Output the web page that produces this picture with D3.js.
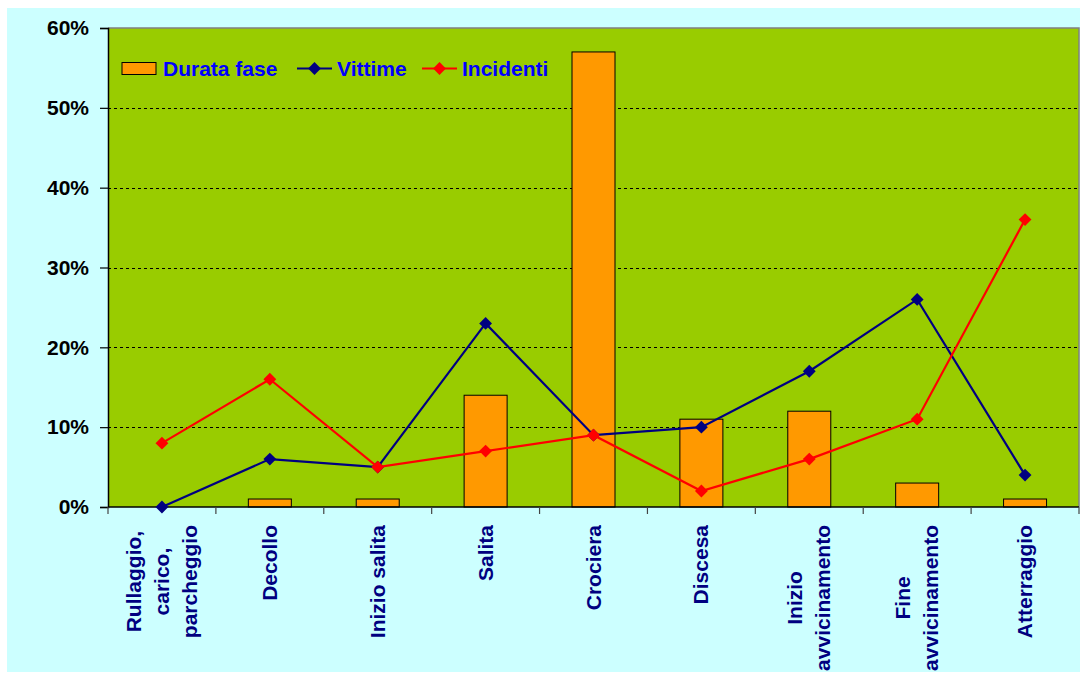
<!DOCTYPE html>
<html><head><meta charset="utf-8">
<script src="https://cdn.jsdelivr.net/npm/d3@7/dist/d3.min.js"></script>
<style>body{margin:0;background:#fff;}svg{display:block;font-family:"Liberation Sans",Arial,sans-serif;}</style>
</head><body>
<svg id="c" width="1080" height="675"></svg>
<script>
const categories = [["Rullaggio,","carico,","parcheggio"],["Decollo"],["Inizio salita"],["Salita"],["Crociera"],["Discesa"],["Inizio","avvicinamento"],["Fine","avvicinamento"],["Atterraggio"]];
const durata = [0, 1, 1, 14, 57, 11, 12, 3, 1];
const vittime = [0, 6, 5, 23, 9, 10, 17, 26, 4];
const incidenti = [8, 16, 5, 7, 9, 2, 6, 11, 36];
const yTicks = [0, 10, 20, 30, 40, 50, 60];
const seriesNames = ["Durata fase", "Vittime", "Incidenti"];

const svg = d3.select("#c");
svg.append("rect").attr("x",7).attr("y",8).attr("width",1073).attr("height",664).attr("fill","#CCFFFF");

const L=108, R=1079, T=28, B=507;
const idx = categories.map((d,i)=>i);
const x = d3.scaleBand().domain(idx).range([L,R]).paddingInner(0).paddingOuter(0);
const y = d3.scaleLinear().domain([0,60]).range([B,T]);

svg.append("rect").attr("x",L).attr("y",T).attr("width",R-L).attr("height",B-T).attr("fill","#99CC00");
svg.append("path").attr("d",`M${L},${T}H${R}V${B}`).attr("fill","none").attr("stroke","#808080").attr("stroke-width",1.5);

svg.append("g").selectAll("line").data(yTicks.filter(t=>t>0&&t<60)).join("line")
  .attr("x1",L).attr("x2",R).attr("y1",d=>Math.round(y(d))+0.5).attr("y2",d=>Math.round(y(d))+0.5)
  .attr("stroke","#000").attr("stroke-width",1).attr("stroke-dasharray","3,3");

const bw = 43;
svg.append("g").selectAll("rect").data(durata).join("rect")
  .attr("x",(d,i)=>x(i)+x.bandwidth()/2-bw/2).attr("width",bw)
  .attr("y",d=>y(d)).attr("height",d=>B-y(d))
  .attr("fill","#FF9900").attr("stroke","#000").attr("stroke-width",1)
  .attr("display",d=>d>0?null:"none");

const yAxis = d3.axisLeft(y).tickValues(yTicks).tickFormat(d=>d+"%").tickSize(8).tickPadding(11);
const gy = svg.append("g").attr("transform",`translate(${L},0)`).call(yAxis);
gy.select(".domain").attr("stroke","#000").attr("stroke-width",1.5);
gy.selectAll(".tick line").attr("stroke","#000").attr("stroke-width",1.2);
gy.selectAll(".tick text").attr("font-size",21).attr("font-weight","bold").attr("fill","#000")
  .attr("font-family","'Liberation Sans',Arial,sans-serif");

svg.append("line").attr("x1",L).attr("x2",R).attr("y1",B).attr("y2",B).attr("stroke","#000").attr("stroke-width",1.5);
svg.append("g").selectAll("line").data(d3.range(categories.length+1)).join("line")
  .attr("x1",d=>L+d*x.bandwidth()).attr("x2",d=>L+d*x.bandwidth())
  .attr("y1",B).attr("y2",B+7).attr("stroke","#444").attr("stroke-width",1.2);

const lineH = 28;
const gl = svg.append("g");
categories.forEach((lines,i)=>{
  const cx = x(i)+x.bandwidth()/2;
  const n = lines.length;
  const g = gl.append("g");
  const texts = lines.map((t,j)=>{
    const lx = cx + (j-(n-1)/2)*lineH + 7;
    return g.append("text").text(t).attr("font-size",21).attr("font-weight","bold").attr("fill","#000080")
      .attr("data-x",lx);
  });
  const maxLen = d3.max(texts,t=>t.node().getComputedTextLength());
  const top = 525;
  texts.forEach(t=>{
    const lx = +t.attr("data-x");
    const ly = top + maxLen/2;
    t.attr("text-anchor","middle").attr("transform",`translate(${lx},${ly}) rotate(-90)`);
  });
});

const xc = i=>x(i)+x.bandwidth()/2;
const lineGen = d3.line().x((d,i)=>xc(i)).y(d=>y(d));
const diamond = d3.symbol().type(d3.symbolDiamond2).size(105);
function drawSeries(data,color){
  svg.append("path").datum(data).attr("d",lineGen).attr("fill","none").attr("stroke",color).attr("stroke-width",2.2);
  svg.append("g").selectAll("path").data(data).join("path")
    .attr("d",diamond).attr("transform",(d,i)=>`translate(${xc(i)},${y(d)})`).attr("fill",color);
}
drawSeries(vittime,"#000080");
drawSeries(incidenti,"#FF0000");

const lg = svg.append("g");
lg.append("rect").attr("x",122).attr("y",62.5).attr("width",34).attr("height",12).attr("fill","#FF9900").attr("stroke","#000").attr("stroke-width",1);
lg.append("text").attr("x",163).attr("y",75.5).text(seriesNames[0]).attr("font-size",21).attr("font-weight","bold").attr("fill","#0000FF");
[[297,"#000080",seriesNames[1],337],[422,"#FF0000",seriesNames[2],462]].forEach(([lx,c,name,tx])=>{
  lg.append("line").attr("x1",lx).attr("x2",lx+35).attr("y1",68.5).attr("y2",68.5).attr("stroke",c).attr("stroke-width",2.2);
  lg.append("path").attr("d",diamond).attr("transform",`translate(${lx+17.5},68.5)`).attr("fill",c);
  lg.append("text").attr("x",tx).attr("y",75.5).text(name).attr("font-size",21).attr("font-weight","bold").attr("fill","#0000FF");
});
</script>
</body></html>
